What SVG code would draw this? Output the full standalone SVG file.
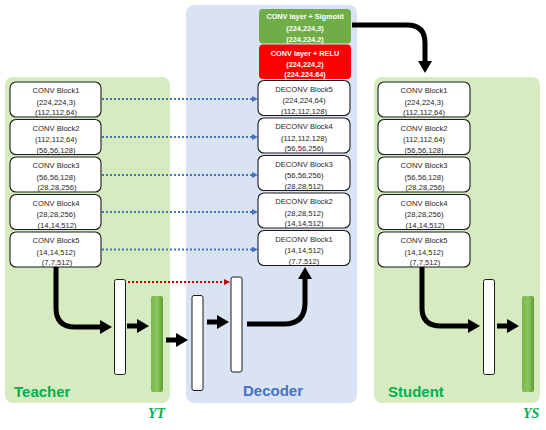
<svg xmlns="http://www.w3.org/2000/svg" width="546" height="430" viewBox="0 0 546 430">
<style>
.pg{fill:#D6EBBF}
.pb{fill:#DAE3F3}
.box{fill:#fff;stroke:#1a1a1a;stroke-width:1.1}
.bar{fill:#fff;stroke:#1a1a1a;stroke-width:1}
.t{font-family:"Liberation Sans",Arial,sans-serif;font-size:7.6px;fill:#262626;text-anchor:middle}
.tw{font-family:"Liberation Sans",Arial,sans-serif;font-size:7.3px;fill:#fff;font-weight:bold;text-anchor:middle}
.lbl{font-family:"Liberation Sans",Arial,sans-serif;font-size:15px;font-weight:bold}
.y{font-family:"Liberation Serif","Times New Roman",serif;font-size:14px;font-weight:bold;font-style:italic;fill:#00B050}
.thick{fill:none;stroke:#000;stroke-width:5;marker-end:url(#ah)}
.blue{fill:none;stroke:#4472C4;stroke-width:2;stroke-dasharray:2 2;marker-end:url(#bh)}
.red{fill:none;stroke:#C00000;stroke-width:2;stroke-dasharray:2 2;marker-end:url(#rh)}
</style>
<defs>
<marker id="ah" markerUnits="userSpaceOnUse" markerWidth="12" markerHeight="14" refX="0" refY="7" orient="auto"><path d="M0,0 L12,7 L0,14 z" fill="#000"/></marker>
<marker id="bh" markerUnits="userSpaceOnUse" markerWidth="6" markerHeight="6" refX="0" refY="3" orient="auto"><path d="M0,0 L6,3 L0,6 z" fill="#4472C4"/></marker>
<marker id="rh" markerUnits="userSpaceOnUse" markerWidth="6" markerHeight="6" refX="0" refY="3" orient="auto"><path d="M0,0 L6,3 L0,6 z" fill="#C00000"/></marker>
<linearGradient id="gb" x1="0" y1="0" x2="1" y2="0">
<stop offset="0" stop-color="#78B84A"/><stop offset="0.5" stop-color="#8CC660"/><stop offset="1" stop-color="#5E9E34"/>
</linearGradient>
</defs>

<g id="panels">
<rect class="pg" x="5" y="77" width="165" height="326" rx="8"/>
<rect class="pb" x="186" y="5" width="171" height="398" rx="8"/>
<rect class="pg" x="374" y="77" width="166" height="326" rx="8"/>
</g>

<g id="teacher-b1"><rect class="box" x="10" y="82" width="91" height="35" rx="6"/><text class="t" x="56" y="93">CONV Block1</text><text class="t" x="56" y="104.5">(224,224,3)</text><text class="t" x="56" y="115">(112,112,64)</text></g>
<g id="teacher-b2"><rect class="box" x="10" y="119.5" width="91" height="35" rx="6"/><text class="t" x="56" y="130.5">CONV Block2</text><text class="t" x="56" y="142">(112,112,64)</text><text class="t" x="56" y="152.5">(56,56,128)</text></g>
<g id="teacher-b3"><rect class="box" x="10" y="157" width="91" height="35" rx="6"/><text class="t" x="56" y="168">CONV Block3</text><text class="t" x="56" y="179.5">(56,56,128)</text><text class="t" x="57" y="190">(28,28,256)</text></g>
<g id="teacher-b4"><rect class="box" x="10" y="194.5" width="91" height="35" rx="6"/><text class="t" x="56" y="205.5">CONV Block4</text><text class="t" x="56" y="217">(28,28,256)</text><text class="t" x="57" y="227.5">(14,14,512)</text></g>
<g id="teacher-b5"><rect class="box" x="10" y="232" width="91" height="35" rx="6"/><text class="t" x="56" y="243">CONV Block5</text><text class="t" x="56" y="254.5">(14,14,512)</text><text class="t" x="57" y="265">(7,7,512)</text></g>
<g id="teacher-fc"><rect class="bar" x="114.5" y="279.5" width="11" height="95" rx="2"/></g>
<g id="teacher-out"><rect x="151" y="296" width="12" height="96" rx="2" fill="url(#gb)"/></g>

<g id="dec-sig"><rect x="259" y="9" width="92" height="34.5" rx="4" fill="#70AD47"/><text class="tw" x="305" y="19">CONV layer + Sigmoid</text><text class="tw" x="305" y="30.5">(224,224,3)</text><text class="tw" x="305" y="41.5">(224.224.2)</text></g>
<g id="dec-relu"><rect x="259" y="44.5" width="92" height="34.5" rx="4" fill="#FF0000"/><text class="tw" x="305" y="56">CONV layer + RELU</text><text class="tw" x="305" y="66.5">(224,224,2)</text><text class="tw" x="305" y="77">(224.224.64)</text></g>
<g id="dec-b5"><rect class="box" x="258" y="80.5" width="92" height="35" rx="6"/><text class="t" x="304" y="91.5">DECONV Block5</text><text class="t" x="304" y="103">(224,224,64)</text><text class="t" x="304" y="113.5">(112,112,128)</text></g>
<g id="dec-b4"><rect class="box" x="258" y="118" width="92" height="35" rx="6"/><text class="t" x="304" y="129">DECONV Block4</text><text class="t" x="304" y="140.5">(112,112,128)</text><text class="t" x="304" y="151">(56,56,256)</text></g>
<g id="dec-b3"><rect class="box" x="258" y="155.5" width="92" height="35" rx="6"/><text class="t" x="304" y="166.5">DECONV Block3</text><text class="t" x="304" y="178">(56,56,256)</text><text class="t" x="304" y="188.5">(28,28,512)</text></g>
<g id="dec-b2"><rect class="box" x="258" y="193" width="92" height="35" rx="6"/><text class="t" x="304" y="204">DECONV Block2</text><text class="t" x="304" y="215.5">(28,28,512)</text><text class="t" x="304" y="226">(14,14,512)</text></g>
<g id="dec-b1"><rect class="box" x="258" y="230.5" width="92" height="35" rx="6"/><text class="t" x="304" y="241.5">DECONV Block1</text><text class="t" x="304" y="253">(14,14,512)</text><text class="t" x="304" y="263.5">(7.7.512)</text></g>
<g id="dec-fc1"><rect class="bar" x="192" y="295.5" width="11" height="95" rx="2"/></g>
<g id="dec-fc2"><rect class="bar" x="231" y="277" width="11" height="95" rx="2"/></g>

<g id="student-b1"><rect class="box" x="378" y="82" width="92" height="35" rx="6"/><text class="t" x="424" y="93">CONV Block1</text><text class="t" x="424" y="104.5">(224,224,3)</text><text class="t" x="424" y="115">(112,112,64)</text></g>
<g id="student-b2"><rect class="box" x="378" y="119.5" width="92" height="35" rx="6"/><text class="t" x="424" y="130.5">CONV Block2</text><text class="t" x="424" y="142">(112,112,64)</text><text class="t" x="424" y="152.5">(56,56,128)</text></g>
<g id="student-b3"><rect class="box" x="378" y="157" width="92" height="35" rx="6"/><text class="t" x="424" y="168">CONV Block3</text><text class="t" x="424" y="179.5">(56,56,128)</text><text class="t" x="425" y="190">(28,28,256)</text></g>
<g id="student-b4"><rect class="box" x="378" y="194.5" width="92" height="35" rx="6"/><text class="t" x="424" y="205.5">CONV Block4</text><text class="t" x="424" y="217">(28,28,256)</text><text class="t" x="425" y="227.5">(14,14,512)</text></g>
<g id="student-b5"><rect class="box" x="378" y="232" width="92" height="35" rx="6"/><text class="t" x="424" y="243">CONV Block5</text><text class="t" x="424" y="254.5">(14,14,512)</text><text class="t" x="425" y="265">(7,7,512)</text></g>
<g id="student-fc"><rect class="bar" x="483.5" y="279.5" width="11" height="95" rx="2"/></g>
<g id="student-out"><rect x="522" y="296" width="12" height="96" rx="2" fill="url(#gb)"/></g>

<g id="labels">
<text class="lbl" x="14" y="397" fill="#00B050">Teacher</text>
<text class="lbl" x="243" y="396" fill="#4472C4">Decoder</text>
<text class="lbl" x="388" y="397" fill="#00B050">Student</text>
<text class="y" x="148" y="418">YT</text>
<text class="y" x="523" y="418">YS</text>
</g>

<g id="connectors">
<path class="blue" d="M102,99 H252"/>
<path class="blue" d="M102,137 H252"/>
<path class="blue" d="M102,175 H252"/>
<path class="blue" d="M102,212 H252"/>
<path class="blue" d="M102,249.5 H252"/>
<path class="red" d="M128,282 H224"/>
<path class="thick" d="M56,267 V308 Q56,327 75,327 H100"/>
<path class="thick" d="M127,326 H137"/>
<path class="thick" d="M166,340 H176"/>
<path class="thick" d="M207,322 H217"/>
<path class="thick" d="M247,324 H284 Q305,324 305,303 V279"/>
<path class="thick" d="M352,25 H407 Q425,25 425,43 V61"/>
<path class="thick" d="M422,267 V308 Q422,326 441,326 H468"/>
<path class="thick" d="M497,326 H507"/>
</g>
</svg>
